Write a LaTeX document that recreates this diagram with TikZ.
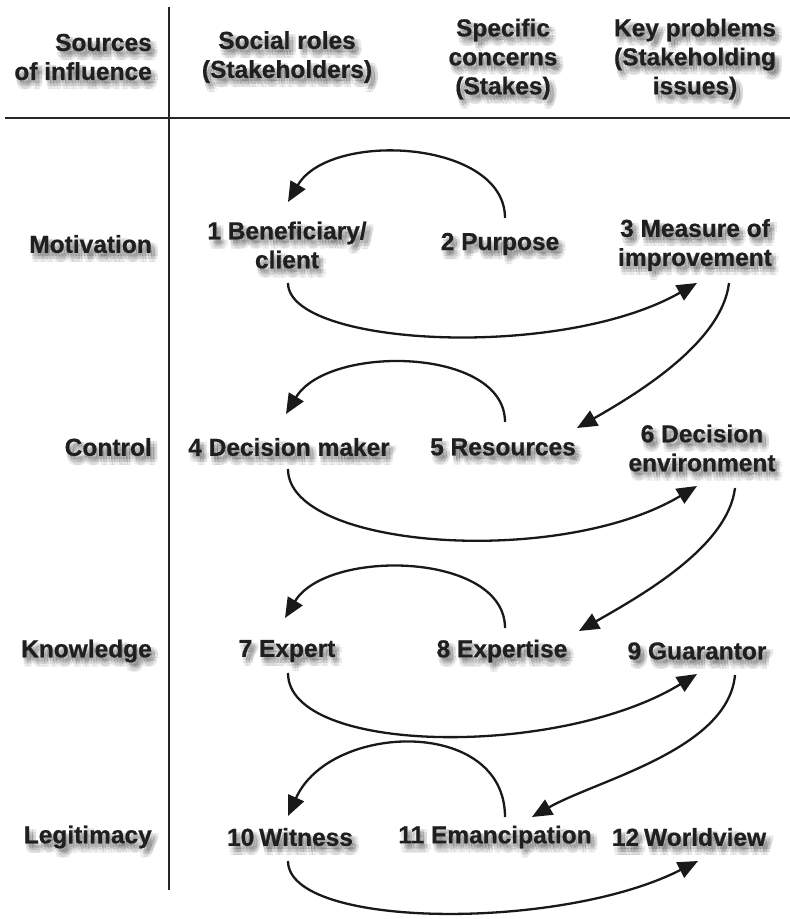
\documentclass[tikz,border=0pt]{standalone}
\usepackage{fontspec}
\setmainfont{Liberation Sans}[BoldFeatures={FakeBold=0.6}]
\usetikzlibrary{arrows.meta}

% Label with a soft drop shadow: #1 extra node options, #2 name, #3 position, #4 text
\newcommand\shadlabel[4]{%
  \foreach \sx/\sy in {1/-3,4/-3,7/-3,1/-6,4/-6,7/-6,2/-9,5/-9,4/-4.5}
    \node[lbl,#1,text=black,text opacity=0.075,xshift=\sx pt,yshift=\sy pt] at (#3) {#4};
  \node[lbl,#1] (#2) at (#3) {#4};
}
% narrow word space used after leading numbers
\newcommand\nsp{\hspace{0.2em}}

\begin{document}
\begin{tikzpicture}[x=1pt,y=-1pt,
  lbl/.style={font=\fontsize{24.5}{29}\selectfont\bfseries, text=black!88, align=center, inner sep=0pt},
  rlbl/.style={align=right, anchor=east},
  conn/.style={line width=2.3pt, draw=black!90, -{Triangle[length=20pt,width=17pt]}},
  rule/.style={line width=2.6pt, draw=black!85}]
\useasboundingbox (0,0) rectangle (790,919);

% table rules
\draw[rule] (5,118) -- (790,118);
\draw[rule] (169,7) -- (169,890);

% column headings
\shadlabel{rlbl}{hsrc}{152,57}{Sources\\of influence}
\shadlabel{}{hrole}{287,57}{Social roles\\(Stakeholders)}
\shadlabel{}{hstake}{503,59}{Specific\\concerns\\(Stakes)}
\shadlabel{}{hkey}{695,59}{Key problems\\(Stakeholding\\issues)}

% row headings
\shadlabel{rlbl}{rmot}{152,244}{Motivation}
\shadlabel{rlbl}{rcon}{152,447}{Control}
\shadlabel{rlbl}{rkno}{152,651}{Knowledge}
\shadlabel{rlbl}{rleg}{152,837}{Legitimacy}

% cells
\shadlabel{}{n1}{287,245}{1 Beneficiary/\\client}
\shadlabel{}{n2}{500,244}{2 Purpose}
\shadlabel{}{n3}{695,245}{3 Measure of\\improvement}
\shadlabel{}{n4}{289,447}{4 Decision maker}
\shadlabel{}{n5}{503,447}{5 Resources}
\shadlabel{}{n6}{702,448}{6 Decision\\environment}
\shadlabel{}{n7}{287,651}{7 Expert}
\shadlabel{}{n8}{502,651}{8 Expertise}
\shadlabel{}{n9}{697,651}{9 Guarantor}
\shadlabel{}{n10}{290,837}{10\nsp Witness}
\shadlabel{}{n11}{495,837}{11 Emancipation}
\shadlabel{}{n12}{689,837}{12\nsp Worldview}

% motivation
\draw[conn] ([shift={(5,-26)}]n2.center) .. controls +(0,-78) and +(42,-72) .. ([shift={(1,-43)}]n1.center);
\draw[conn] ([shift={(1,38)}]n1.center) .. controls +(0,63) and +(-137,78) .. ([shift={(2,38)}]n3.center);
\draw[conn] ([shift={(34,38)}]n3.center) .. controls +(-7,58) and +(65,-37) .. ([shift={(74,-19)}]n5.center);

% control
\draw[conn] ([shift={(2,-25)}]n5.center) .. controls +(0,-75) and +(42,-70) .. ([shift={(-3,-33)}]n4.center);
\draw[conn] ([shift={(-1,22)}]n4.center) .. controls +(0,80) and +(-137,82) .. ([shift={(-5,38)}]n6.center);
\draw[conn] ([shift={(33,40)}]n6.center) .. controls +(-7,58) and +(65,-37) .. ([shift={(77,-20)}]n8.center);

% knowledge
\draw[conn] ([shift={(3,-23)}]n8.center) .. controls +(0,-76) and +(42,-70) .. ([shift={(-2,-33)}]n7.center);
\draw[conn] ([shift={(1,22)}]n7.center) .. controls +(0,82) and +(-137,84) .. ([shift={(0,23)}]n9.center);
\draw[conn] ([shift={(38,24)}]n9.center) .. controls +(-7,75) and +(65,-37) .. ([shift={(37,-20)}]n11.center);

% legitimacy
\draw[conn] ([shift={(10,-20)}]n11.center) .. controls +(0,-100) and +(42,-94) .. ([shift={(-2,-21)}]n10.center);
\draw[conn] ([shift={(-2,24)}]n10.center) .. controls +(0,68) and +(-137,70) .. ([shift={(9,24)}]n12.center);
\end{tikzpicture}
\end{document}
